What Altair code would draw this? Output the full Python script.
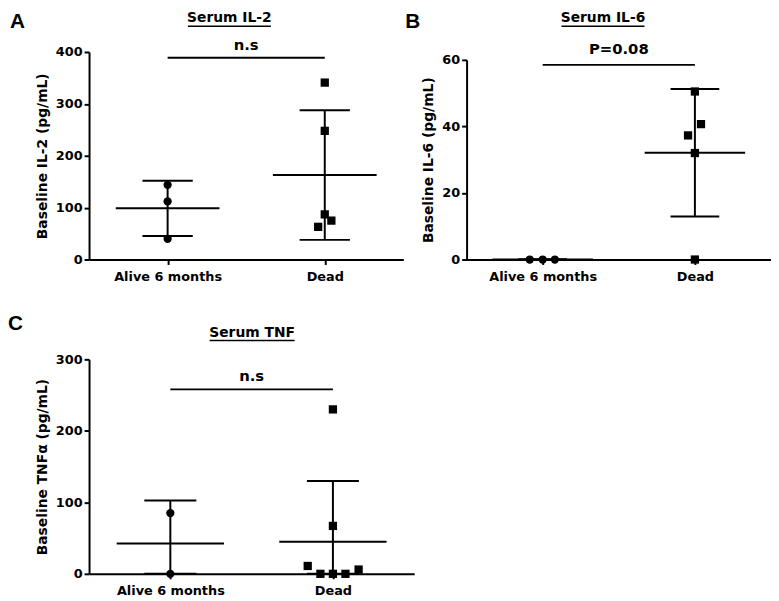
import altair as alt
import pandas as pd

groups = ["Alive 6 months", "Dead"]

# Panel A - Serum IL-2
a_group = [0, 0, 0, 1, 1, 1, 1, 1]
a_value = [144, 112, 40, 341, 248, 87, 75, 63]
a_jitter = [0, 0, 0, 0, 0, 0, 0.042, -0.042]
a_sig_y = 389
a_sig_label = "n.s"
a_ticks = [0, 100, 200, 300, 400]

# Panel B - Serum IL-6
b_group = [0, 0, 0, 1, 1, 1, 1, 1]
b_value = [0, 0, 0, 50.5, 40.7, 37.3, 32, 0]
b_jitter = [-0.085, 0, 0.08, 0, 0.04, -0.045, 0, 0]
b_sig_y = 58.5
b_sig_label = "P=0.08"
b_ticks = [0, 20, 40, 60]

# Panel C - Serum TNF
c_group = [0, 0, 1, 1, 1, 1, 1, 1, 1]
c_value = [85, 0, 230, 67, 11, 0, 0, 0, 6]
c_jitter = [0, 0, 0, 0, -0.155, -0.077, 0, 0.077, 0.158]
c_sig_y = 258
c_sig_label = "n.s"
c_ticks = [0, 100, 200, 300]

FONT = "DejaVu Sans"
label_expr = " : ".join(
    [f"datum.value == {i + 0.5} ? '{g}'" for i, g in enumerate(groups[:-1])]
) + f" : '{groups[-1]}'"


def panel(letter, title, ytitle, g, v, j, sig_y, sig_label, sig_dy, ticks,
          w, h, yrange, letter_xy, title_xy, uline):
    df = pd.DataFrame({"g": g, "v": v, "j": j})
    df["grp"] = [groups[i] for i in g]
    xs = alt.Scale(domain=[0, 2], nice=False, zero=False)
    ys = alt.Scale(domain=[ticks[0], ticks[-1]], nice=False, clamp=True, range=yrange)
    xaxis = alt.Axis(values=[i + 0.5 for i in range(len(groups))],
                     labelExpr=label_expr, title=None, labelAngle=0,
                     labelPadding=6)
    yaxis = alt.Axis(values=ticks, title=ytitle, titlePadding=6,
                     labelPadding=2)

    def X(f):
        return alt.X(f, type="quantitative", scale=xs, axis=xaxis)

    def Y(f):
        return alt.Y(f, type="quantitative", scale=ys, axis=yaxis)

    pts = alt.Chart(df).transform_calculate(
        pos="datum.g + 0.5 + datum.j"
    ).mark_point(filled=True, opacity=1, size=70, color="black").encode(
        x=X("pos"), y=Y("v"),
        shape=alt.Shape("grp:N", scale=alt.Scale(domain=groups, range=["circle", "square"]),
                        legend=None),
    )

    agg = alt.Chart(df).transform_aggregate(
        m="mean(v)", s="stdev(v)", groupby=["g"]
    ).transform_calculate(
        c="datum.g + 0.5",
        lo="datum.m - datum.s",
        hi="datum.m + datum.s",
        ml="datum.g + 0.5 - 0.33",
        mr="datum.g + 0.5 + 0.33",
        kl="datum.g + 0.5 - 0.16",
        kr="datum.g + 0.5 + 0.16",
    )
    rule_style = dict(color="black", strokeWidth=2)
    vbar = agg.mark_rule(**rule_style).encode(x=X("c"), y=Y("lo"), y2="hi:Q")
    mean = agg.mark_rule(**rule_style).encode(x=X("ml"), x2="mr:Q", y=Y("m"))
    caphi = agg.mark_rule(**rule_style).encode(x=X("kl"), x2="kr:Q", y=Y("hi"))
    caplo = agg.mark_rule(**rule_style).encode(x=X("kl"), x2="kr:Q", y=Y("lo"))

    sdf = pd.DataFrame({"x1": [0.5], "x2": [1.5], "xm": [1.0], "y": [sig_y], "t": [sig_label]})
    sig = alt.Chart(sdf).mark_rule(**rule_style).encode(x=X("x1"), x2="x2:Q", y=Y("y"))
    sigt = alt.Chart(sdf).mark_text(
        font=FONT, fontWeight="bold", fontSize=15, baseline="alphabetic", dy=sig_dy,
        color="black"
    ).encode(x=X("xm"), y=Y("y"), text="t:N")

    tdf = pd.DataFrame({"t": [title], "l": [letter]})
    ttl = alt.Chart(tdf).mark_text(
        font=FONT, fontWeight="bold", fontSize=14, baseline="top", align="center", color="black"
    ).encode(x=alt.value(title_xy[0]), y=alt.value(title_xy[1]), text="t:N")
    ul = alt.Chart(tdf).mark_rule(color="black", strokeWidth=1.5).encode(
        x=alt.value(uline[0]), x2=alt.value(uline[1]), y=alt.value(uline[2]))
    let = alt.Chart(tdf).mark_text(
        font="Liberation Sans", fontWeight="bold", fontSize=21, baseline="top", align="left",
        color="black"
    ).encode(x=alt.value(letter_xy[0]), y=alt.value(letter_xy[1]), text="l:N")

    return alt.layer(pts, vbar, mean, caphi, caplo, sig, sigt, ttl, ul, let).properties(
        width=w, height=h)


A = panel("A", "Serum IL-2", "Baseline IL-2 (pg/mL)", a_group, a_value, a_jitter,
          a_sig_y, a_sig_label, -8, a_ticks, 318, 210, [210, 0],
          letter_xy=(-80, -41), title_xy=(142, -41), uline=(100, 184, -26))
B = panel("B", "Serum IL-6", "Baseline IL-6 (pg/mL)", b_group, b_value, b_jitter,
          b_sig_y, b_sig_label, -11, b_ticks, 308, 210, [210, 8],
          letter_xy=(-62, -41), title_xy=(138, -41), uline=(96, 180, -26))
C = panel("C", "Serum TNF", "Baseline TNFα (pg/mL)", c_group, c_value, c_jitter,
          c_sig_y, c_sig_label, -8, c_ticks, 329, 217, [217, 0],
          letter_xy=(-82, -47), title_xy=(165, -34), uline=(122, 208, -19))

chart = alt.vconcat(
    alt.hconcat(A, B, spacing=2), C, spacing=30
).properties(
    padding={"left": 0, "top": 0, "right": 0, "bottom": 0}
).configure_view(stroke=None).configure_axis(
    domainColor="black", domainWidth=2, tickColor="black", tickWidth=2, tickSize=5,
    labelFont=FONT, labelFontWeight="bold", labelFontSize=13, labelColor="black",
    titleFont=FONT, titleFontWeight="bold", titleFontSize=14, titleColor="black",
    grid=False,
)

chart.save("out.html", embed_options={"renderer": "svg", "actions": False})
